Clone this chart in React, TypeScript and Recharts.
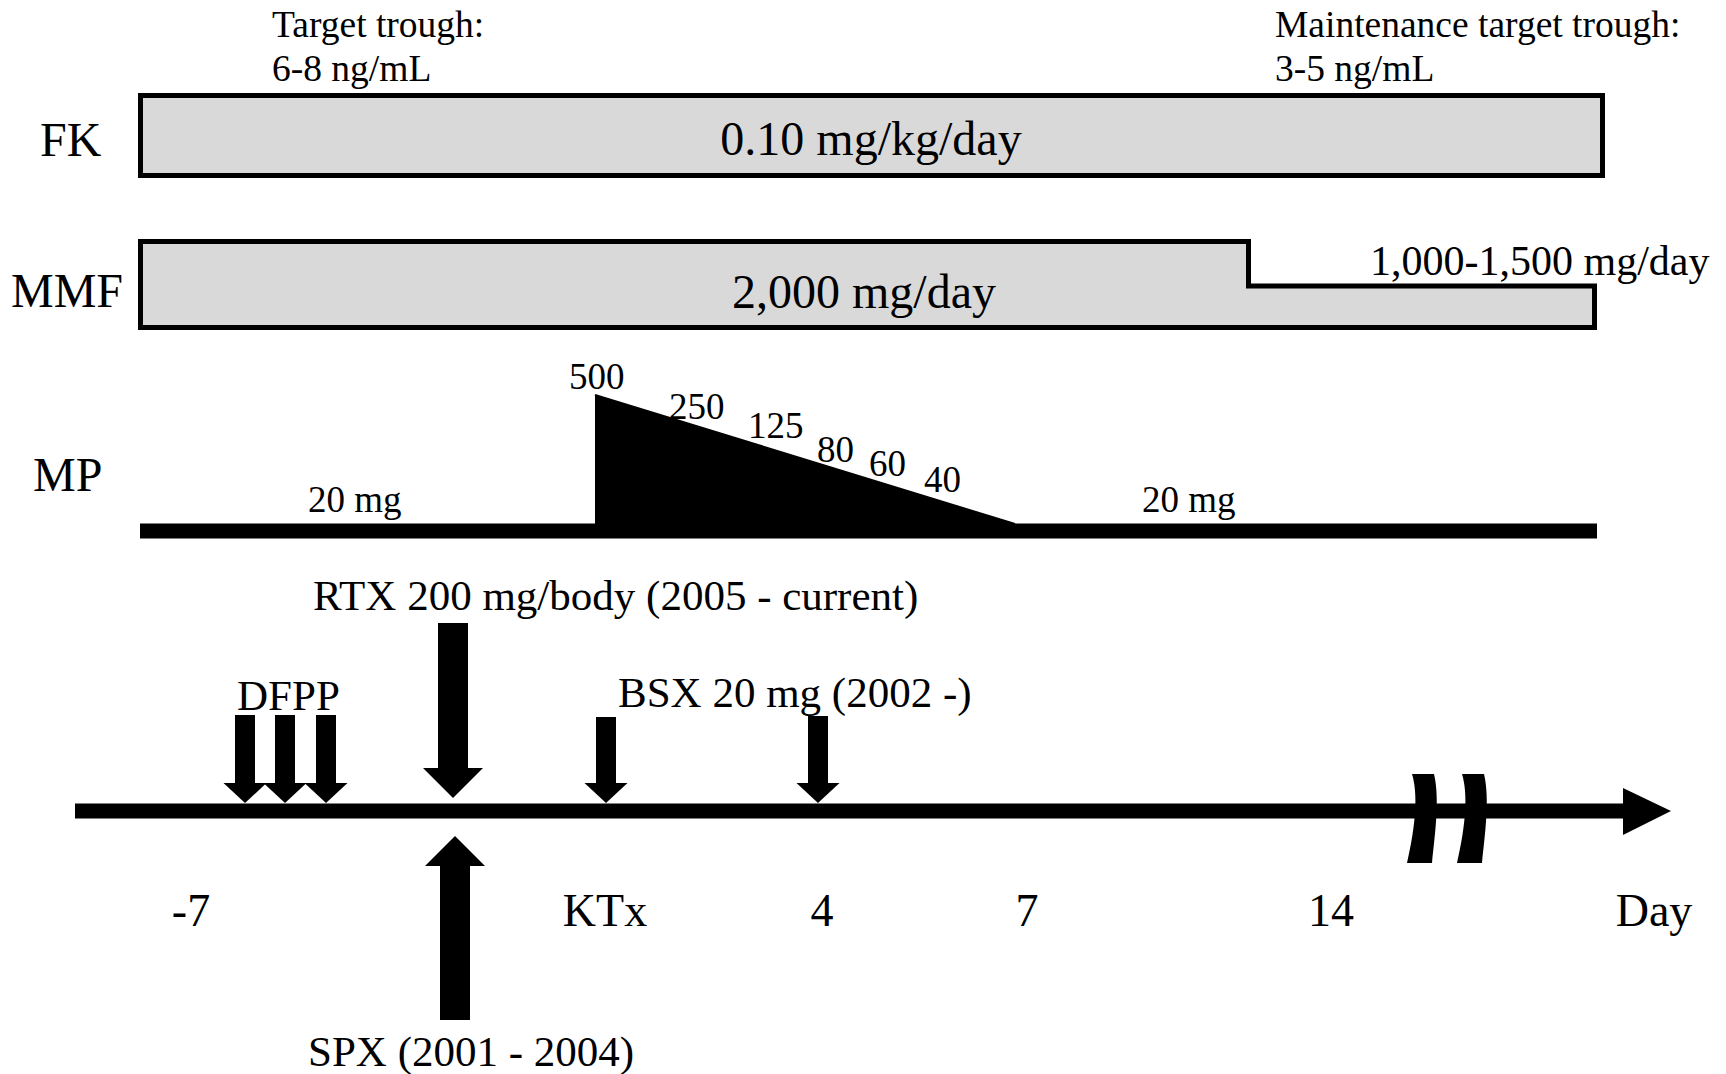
import React from "react";
import { ComposedChart, XAxis, YAxis, Line, Area, Scatter } from "recharts";

const W = 1726;
const H = 1074;
const FONT = '"Liberation Serif", "Times New Roman", serif';

// schematic coordinates: x = place along the timeline, y = vertical level (0 = top)

const timelineTicks = [
  { text: "-7", x: 191 },
  { text: "KTx", x: 605 },
  { text: "4", x: 822 },
  { text: "7", x: 1027 },
  { text: "14", x: 1331 },
  { text: "Day", x: 1654 },
];
const tickRow = 926;

const rowLabels = [
  { text: "FK", x: 40, y: 156 },
  { text: "MMF", x: 11, y: 307 },
  { text: "MP", x: 33, y: 491 },
];

const troughNotes = [
  { text: "Target trough:", x: 272, y: 37 },
  { text: "6-8 ng/mL", x: 272, y: 81 },
  { text: "Maintenance target trough:", x: 1275, y: 37 },
  { text: "3-5 ng/mL", x: 1275, y: 81 },
];

const doseLabels = [
  { text: "0.10 mg/kg/day", x: 871, y: 155 },
  { text: "2,000 mg/day", x: 864, y: 308 },
];
const mmfTaperLabel = [{ text: "1,000-1,500 mg/day", x: 1370, y: 275 }];

const mpBaseDose = [
  { text: "20 mg", x: 308, y: 512 },
  { text: "20 mg", x: 1142, y: 512 },
];
const mpPulseDose = [
  { text: "500", x: 569, y: 389 },
  { text: "250", x: 669, y: 419 },
  { text: "125", x: 748, y: 438 },
  { text: "80", x: 817, y: 462 },
  { text: "60", x: 869, y: 476 },
  { text: "40", x: 924, y: 492 },
];

const eventLabels = [
  { text: "RTX 200 mg/body (2005 - current)", x: 313, y: 610 },
  { text: "DFPP", x: 237, y: 710 },
  { text: "BSX 20 mg (2002 -)", x: 618, y: 707 },
  { text: "SPX (2001 - 2004)", x: 308, y: 1066 },
];

// FK bar
const fkFill = [
  { x: 140.5, v: [175.5, 95.5] },
  { x: 1602.5, v: [175.5, 95.5] },
];
const fkOutline = [
  { x: 800, y: 175.5 },
  { x: 140.5, y: 175.5 },
  { x: 140.5, y: 95.5 },
  { x: 1602.5, y: 95.5 },
  { x: 1602.5, y: 175.5 },
  { x: 800, y: 175.5 },
];

// MMF bar, stepping down to the maintenance dose
const mmfFill = [
  { x: 140.5, v: [327.5, 241.5] },
  { x: 1248.5, v: [327.5, 241.5] },
  { x: 1248.5, v: [327.5, 286] },
  { x: 1594.5, v: [327.5, 286] },
];
const mmfOutline = [
  { x: 800, y: 327.5 },
  { x: 140.5, y: 327.5 },
  { x: 140.5, y: 241.5 },
  { x: 1248.5, y: 241.5 },
  { x: 1248.5, y: 286 },
  { x: 1594.5, y: 286 },
  { x: 1594.5, y: 327.5 },
  { x: 800, y: 327.5 },
];

// MP
const mpLine = [
  { x: 140, y: 531 },
  { x: 1597, y: 531 },
];
const mpPulse = [
  { x: 595, v: [531, 395] },
  { x: 1015, v: [531, 524] },
];

// timeline
const axisLine = [
  { x: 75, y: 811 },
  { x: 1626, y: 811 },
];
const axisHead = [
  { x: 1623, v: [835, 788] },
  { x: 1671, v: [811, 811] },
];
const breakMarks = [
  { x: 1407, y: 774 },
  { x: 1457, y: 774 },
];

const eventArrows = [
  { event: "DFPP", x: 245, from: 715, to: 803, kind: "small" },
  { event: "DFPP", x: 285, from: 715, to: 803, kind: "small" },
  { event: "DFPP", x: 326, from: 715, to: 803, kind: "small" },
  { event: "RTX", x: 453, from: 623, to: 798, kind: "large" },
  { event: "BSX", x: 606, from: 717, to: 803, kind: "small" },
  { event: "BSX", x: 818, from: 716, to: 803, kind: "small" },
  { event: "SPX", x: 455, from: 1020, to: 836, kind: "large" },
];

const ARROW = {
  small: { shaft: 20, hw: 21.5, hh: 20 },
  large: { shaft: 30, hw: 30, hh: 30 },
};

const textShape = (size: number, anchor: "start" | "middle" = "start") => (p: any) => (
  <text x={p.cx} y={p.cy} fontSize={size} fontFamily={FONT} textAnchor={anchor} fill="#000">
    {p.payload.text}
  </text>
);

const headShape = (hw: number, hh: number, dir: number) => (p: any) => (
  <polygon
    points={`${p.cx - hw},${p.cy - dir * hh} ${p.cx + hw},${p.cy - dir * hh} ${p.cx},${p.cy}`}
    fill="#000"
  />
);

const breakShape = (p: any) => {
  const x = p.cx;
  const y = p.cy;
  return (
    <path
      d={`M${x + 5},${y} C${x + 11},${y + 20} ${x + 9},${y + 50} ${x},${y + 89} L${x + 25},${y + 89} C${x + 28},${y + 60} ${x + 33},${y + 25} ${x + 27},${y} Z`}
      fill="#000"
    />
  );
};

export default function App() {
  return (
    <div style={{ position: "absolute", left: 0, top: 0, width: W, height: H, background: "#fff" }}>
      <ComposedChart width={W} height={H} margin={{ top: 0, right: 0, bottom: 0, left: 0 }}>
        <XAxis type="number" dataKey="x" domain={[0, W]} hide allowDataOverflow />
        <YAxis type="number" domain={[0, H]} reversed hide allowDataOverflow />

        <Area data={fkFill} dataKey="v" type="linear" fill="#d9d9d9" fillOpacity={1} stroke="none" dot={false} activeDot={false} isAnimationActive={false} />
        <Area data={mmfFill} dataKey="v" type="linear" fill="#d9d9d9" fillOpacity={1} stroke="none" dot={false} activeDot={false} isAnimationActive={false} />
        <Area data={mpPulse} dataKey="v" type="linear" fill="#000" fillOpacity={1} stroke="#000" strokeWidth={2} dot={false} activeDot={false} isAnimationActive={false} />
        <Area data={axisHead} dataKey="v" type="linear" fill="#000" fillOpacity={1} stroke="none" dot={false} activeDot={false} isAnimationActive={false} />

        <Line data={fkOutline} dataKey="y" type="linear" stroke="#000" strokeWidth={5} strokeLinejoin="miter" dot={false} activeDot={false} isAnimationActive={false} />
        <Line data={mmfOutline} dataKey="y" type="linear" stroke="#000" strokeWidth={5} strokeLinejoin="miter" dot={false} activeDot={false} isAnimationActive={false} />
        <Line data={mpLine} dataKey="y" type="linear" stroke="#000" strokeWidth={15} dot={false} activeDot={false} isAnimationActive={false} />
        <Line data={axisLine} dataKey="y" type="linear" stroke="#000" strokeWidth={15} dot={false} activeDot={false} isAnimationActive={false} />

        {eventArrows.map((a, i) => {
          const s = ARROW[a.kind as "small" | "large"];
          const dir = a.to > a.from ? 1 : -1;
          return (
            <Line
              key={"shaft" + i}
              data={[{ x: a.x, y: a.from }, { x: a.x, y: a.to - dir * (s.hh - 1) }]}
              dataKey="y"
              type="linear"
              stroke="#000"
              strokeWidth={s.shaft}
              dot={false}
              activeDot={false}
              isAnimationActive={false}
            />
          );
        })}
        {eventArrows.map((a, i) => {
          const s = ARROW[a.kind as "small" | "large"];
          const dir = a.to > a.from ? 1 : -1;
          return (
            <Scatter
              key={"head" + i}
              data={[{ x: a.x, y: a.to }]}
              dataKey="y"
              shape={headShape(s.hw, s.hh, dir)}
              isAnimationActive={false}
            />
          );
        })}
        <Scatter data={breakMarks} dataKey="y" shape={breakShape} isAnimationActive={false} />

        <Scatter data={rowLabels} dataKey="y" shape={textShape(48)} isAnimationActive={false} />
        <Scatter data={troughNotes} dataKey="y" shape={textShape(37.5)} isAnimationActive={false} />
        <Scatter data={doseLabels} dataKey="y" shape={textShape(48, "middle")} isAnimationActive={false} />
        <Scatter data={mmfTaperLabel} dataKey="y" shape={textShape(42)} isAnimationActive={false} />
        <Scatter data={mpBaseDose} dataKey="y" shape={textShape(37)} isAnimationActive={false} />
        <Scatter data={mpPulseDose} dataKey="y" shape={textShape(37)} isAnimationActive={false} />
        <Scatter data={eventLabels} dataKey="y" shape={textShape(43)} isAnimationActive={false} />
        <Scatter
          data={timelineTicks.map((t) => ({ ...t, y: tickRow }))}
          dataKey="y"
          shape={textShape(46, "middle")}
          isAnimationActive={false}
        />
      </ComposedChart>
    </div>
  );
}
